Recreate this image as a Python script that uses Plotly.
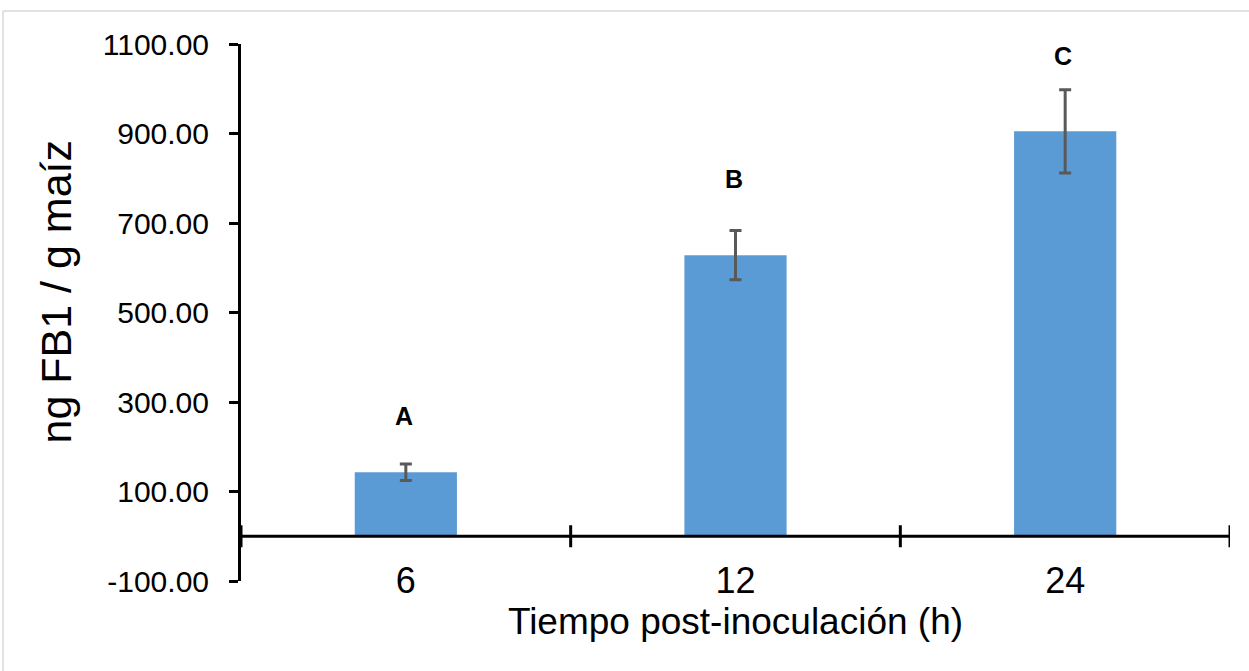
import plotly.graph_objects as go

# ---- data ----
categories = ["6", "12", "24"]
values = [143.0, 628.0, 905.0]
errors = [18.5, 55.0, 93.0]
letters = ["A", "B", "C"]
letter_heights = [269.0, 798.0, 1074.0]
y_ticks = [-100, 100, 300, 500, 700, 900, 1100]
y_tick_labels = [f"{v:.2f}" for v in y_ticks]

FONT = "Liberation Sans, Arial, sans-serif"

W, H = 1249, 671
ML, MR, MT, MB = 241, 19, 44, 90
pw, ph = W - ML - MR, H - MT - MB

fig = go.Figure()
fig.add_trace(go.Bar(
    x=categories, y=values,
    marker=dict(color="#5B9BD5", line=dict(width=0)),
    width=0.31,
    error_y=dict(type="data", array=errors, visible=True,
                 color="#595959", thickness=3, width=6),
))

for i, (txt, h) in enumerate(zip(letters, letter_heights)):
    fig.add_annotation(x=i, y=h, xref="x", yref="y", text=f"<b>{txt}</b>",
                       showarrow=False, xshift=-2,
                       font=dict(family=FONT, size=25, color="black"))

# y-axis title as rotated annotation
fig.add_annotation(x=0, y=0.5, xref="paper", yref="paper", text="ng FB1 / g maíz",
                   textangle=-90, showarrow=False, xanchor="center", yanchor="middle",
                   xshift=-(ML - 55), yshift=21,
                   font=dict(family=FONT, size=43, color="black"))

shapes = []
# horizontal axis line at y = 0
shapes.append(dict(type="line", xref="paper", yref="y", x0=0, x1=1, y0=0, y1=0,
                   line=dict(color="black", width=3), layer="above"))
# category boundary tick marks crossing the axis
for i in range(len(categories) + 1):
    shapes.append(dict(type="line", xref="x", yref="y", x0=i - 0.5, x1=i - 0.5,
                       ysizemode="pixel", yanchor=0, y0=-11, y1=11,
                       line=dict(color="black", width=3), layer="above"))
# faint outer border (top and left)
bx = (3 - ML) / pw
by = 1 + (MT - 11) / ph
shapes.append(dict(type="line", xref="paper", yref="paper", x0=bx, x1=(W - ML) / pw,
                   y0=by, y1=by, line=dict(color="#D9D9D9", width=1.5)))
shapes.append(dict(type="line", xref="paper", yref="paper", x0=bx, x1=bx,
                   y0=by, y1=-MB / ph, line=dict(color="#D9D9D9", width=1.5)))

fig.update_layout(
    width=W, height=H,
    margin=dict(l=ML, r=MR, t=MT, b=MB, autoexpand=False),
    paper_bgcolor="white", plot_bgcolor="white",
    showlegend=False,
    shapes=shapes,
    font=dict(family=FONT, color="black"),
    xaxis=dict(
        type="category", range=[-0.5, len(categories) - 0.5],
        showline=False, showgrid=False, zeroline=False, ticks="",
        tickfont=dict(family=FONT, size=36, color="black"),
        ticklabelstandoff=-25,
        title=dict(text="Tiempo post-inoculación (h)",
                   font=dict(family=FONT, size=37, color="black"), standoff=0),
    ),
    yaxis=dict(
        range=[-100, 1100], tickvals=y_ticks, ticktext=y_tick_labels,
        showline=True, linecolor="black", linewidth=3,
        ticks="outside", ticklen=9, tickwidth=3, tickcolor="black",
        showgrid=False, zeroline=False,
        tickfont=dict(family=FONT, size=30, color="black"),
        ticklabelstandoff=14,
    ),
)

fig.write_html("out.html", config={"displayModeBar": False},
               post_script="document.body.style.margin='0';document.body.style.overflow='hidden';")
